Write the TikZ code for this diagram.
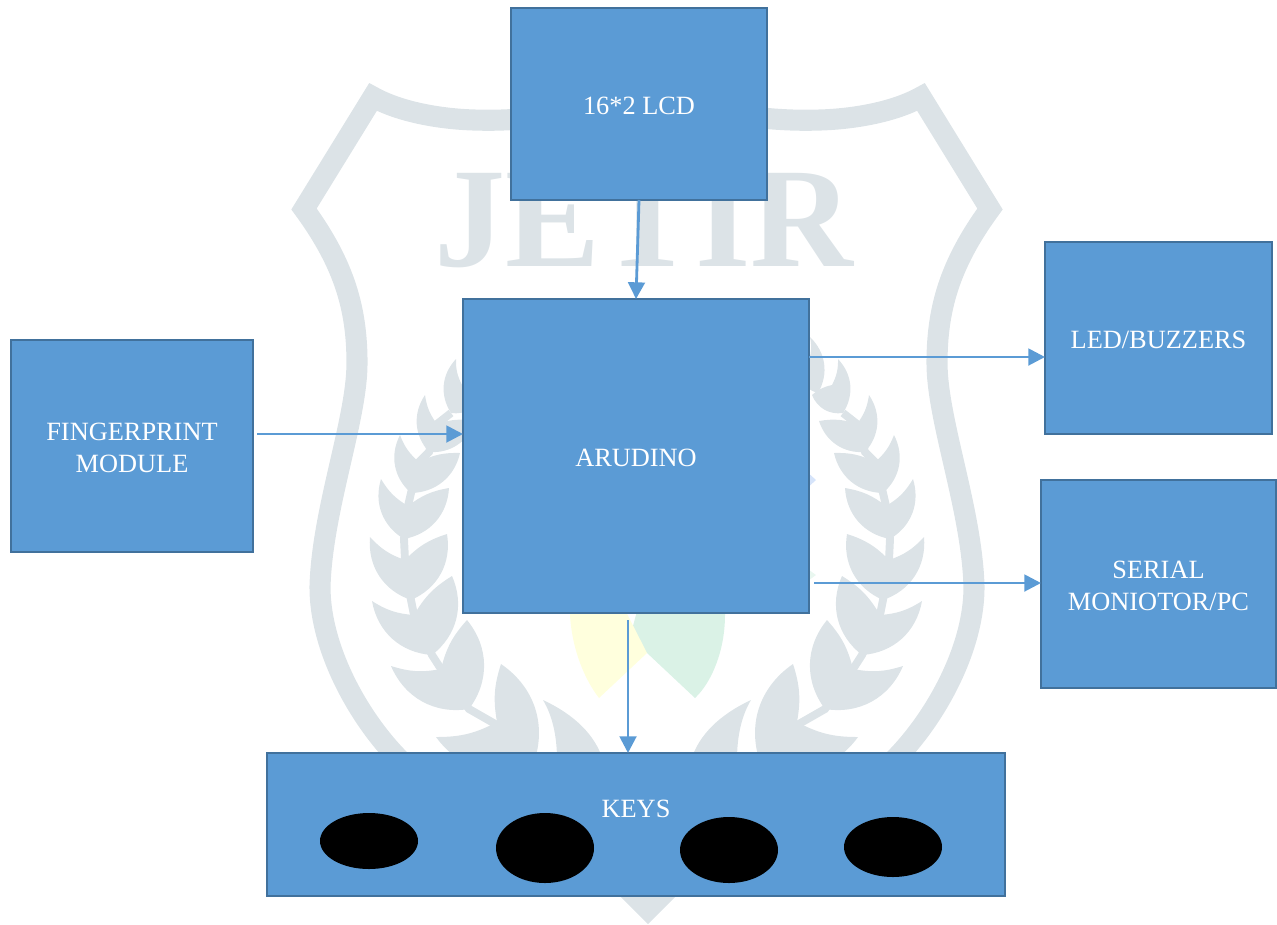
\documentclass[tikz,border=0pt]{standalone}
\usepackage{fontspec}
\setmainfont{Liberation Serif}
\usetikzlibrary{arrows.meta,positioning,shapes.geometric}
\definecolor{boxblue}{RGB}{91,155,213}
\definecolor{boxedge}{RGB}{65,113,156}
\definecolor{markgray}{RGB}{220,227,231}
\definecolor{markyellow}{RGB}{255,255,221}
\definecolor{markgreen}{RGB}{218,242,230}
\definecolor{markblue}{RGB}{214,228,250}
\tikzset{
  blockbox/.style={draw=boxedge,fill=boxblue,line width=1.4pt,text=white,align=center,inner sep=0pt,outer sep=0pt},
  keyhole/.style={ellipse,fill=black,inner sep=0pt},
  feed/.style={draw=boxblue,line width=1.6pt,-{Triangle[length=9.5pt,width=9.5pt]}},
}
\newcommand{\blockat}[6]{%
  \node[blockbox,minimum width={(#3-#2)*.02cm},minimum height={(#5-#4)*.02cm}] (#1)
    at ({(#2+#3)/2},{(#4+#5)/2}) {\rule{0pt}{12pt}#6};
}
\newcommand{\wheattulip}[4]{%
  \fill[markgray] #1 to[bend right=38] #2 to[bend right=38] #3
    to[bend right=14] #4 to[bend left=14] cycle;
}
\begin{document}
\begin{tikzpicture}[x=.02cm,y=-.02cm,font=\fontsize{15}{18}\selectfont]
    \useasboundingbox (0,0) rectangle (1277,924);
    % watermark
    \node[text=markgray,font=\fontsize{81}{81}\selectfont\bfseries] (markname) at (644,221) {JETIR};
    \fill[markgreen] (725,600) -- (725,615) .. controls (725,650) and (712,682) .. (695,698) -- (630,637) -- (640,600) -- cycle;
    \fill[markyellow] (570,600) -- (570,615) .. controls (572,650) and (585,680) .. (599,698) -- (647,653) -- (620,600) -- cycle;
    \fill[markblue] (805,470) -- (816,480) -- (805,490) -- cycle;
    \fill[markgreen!60] (805,567) -- (816,575) -- (805,583) -- cycle;
    \fill[markgray] (620,896) -- (648,924) -- (676,896) -- cycle;
    \foreach \flip/\shiftx in {1/0,-1/1294}{
      \begin{scope}[shift={(\shiftx,0)},xscale=\flip]
        \draw[markgray,line width=12pt,line join=miter]
          (647,92) .. controls (590,112) and (530,122) .. (474,120)
          .. controls (440,119) and (400,112) .. (373,97) -- (304,209)
          .. controls (345,265) and (357,310) .. (357,363)
          .. controls (357,420) and (322,510) .. (320,587)
          .. controls (320,650) and (360,720) .. (400,760) -- (520,840);
        \draw[markgray,line width=4.5pt] (451,413) -- (437,424) -- (429,452) -- (419,462) -- (411,493)
          -- (408,506) -- (404,539) -- (405,560) -- (411,600) -- (414,615) -- (432,655) -- (441,669)
          -- (469,709) -- (497,725);
        \wheattulip{(484,337)}{(476,393)}{(500,360)}{(485,360)}
        \wheattulip{(456,359)}{(451,413)}{(482,395)}{(462,385)}
        \wheattulip{(425,395)}{(429,452)}{(475,421)}{(437,424)}
        \wheattulip{(400,435)}{(411,493)}{(460,453)}{(419,462)}
        \wheattulip{(381,479)}{(404,539)}{(449,488)}{(408,506)}
        \wheattulip{(370,537)}{(411,600)}{(447,534)}{(405,560)}
        \wheattulip{(372,601)}{(432,655)}{(452,576)}{(414,615)}
        \wheattulip{(391,666)}{(469,709)}{(467,620)}{(441,669)}
        \wheattulip{(436,737)}{(533,765)}{(501,664)}{(497,722)}
        \fill[markgray] (543,700) .. controls (575,715) and (595,735) .. (603,760) -- (557,760) .. controls (557,735) and (552,715) .. (543,700) -- cycle;
      \end{scope}
    }
    % blocks
    \blockat{lcd}{511}{767}{8}{200}{16*2 LCD}
    \blockat{arduino}{463}{809}{299}{613}{ARUDINO}
    \blockat{leds}{1045}{1272}{242}{434}{LED/BUZZERS}
    \blockat{serial}{1041}{1276}{480}{688}{SERIAL\\MONIOTOR/PC}
    \blockat{finger}{11}{253}{340}{552}{FINGERPRINT\\MODULE}
    \blockat{keys}{267}{1005}{753}{896}{}
    \node[text=white] (keyname) at (636,809) {KEYS};
    \foreach \n/\cx/\cy/\ry in {1/369/841/28,2/545/848/35,3/729/850/33,4/893/847/30}{
      \node[keyhole,minimum width=98*.02cm,minimum height={2*\ry*.02cm}] (key\n) at (\cx,\cy) {};
    }
    % connectors
    \coordinate (fingerout) at (257,434);
    \coordinate (fingerin) at (arduino.west |- fingerout);
    \coordinate (ledsout) at (arduino.east |- 0,357);
    \coordinate (ledsin) at (leds.west |- ledsout);
    \coordinate (serialout) at (814,583);
    \coordinate (serialin) at (serial.west |- serialout);
    \coordinate (keysout) at (628,620);
    \coordinate (keysin) at (keysout |- keys.north);
    \draw[feed] (lcd.south) -- (arduino.north);
    \draw[feed] (fingerout) -- (fingerin);
    \draw[feed] (ledsout) -- (ledsin);
    \draw[feed] (serialout) -- (serialin);
    \draw[feed] (keysout) -- (keysin);
\end{tikzpicture}
\end{document}
